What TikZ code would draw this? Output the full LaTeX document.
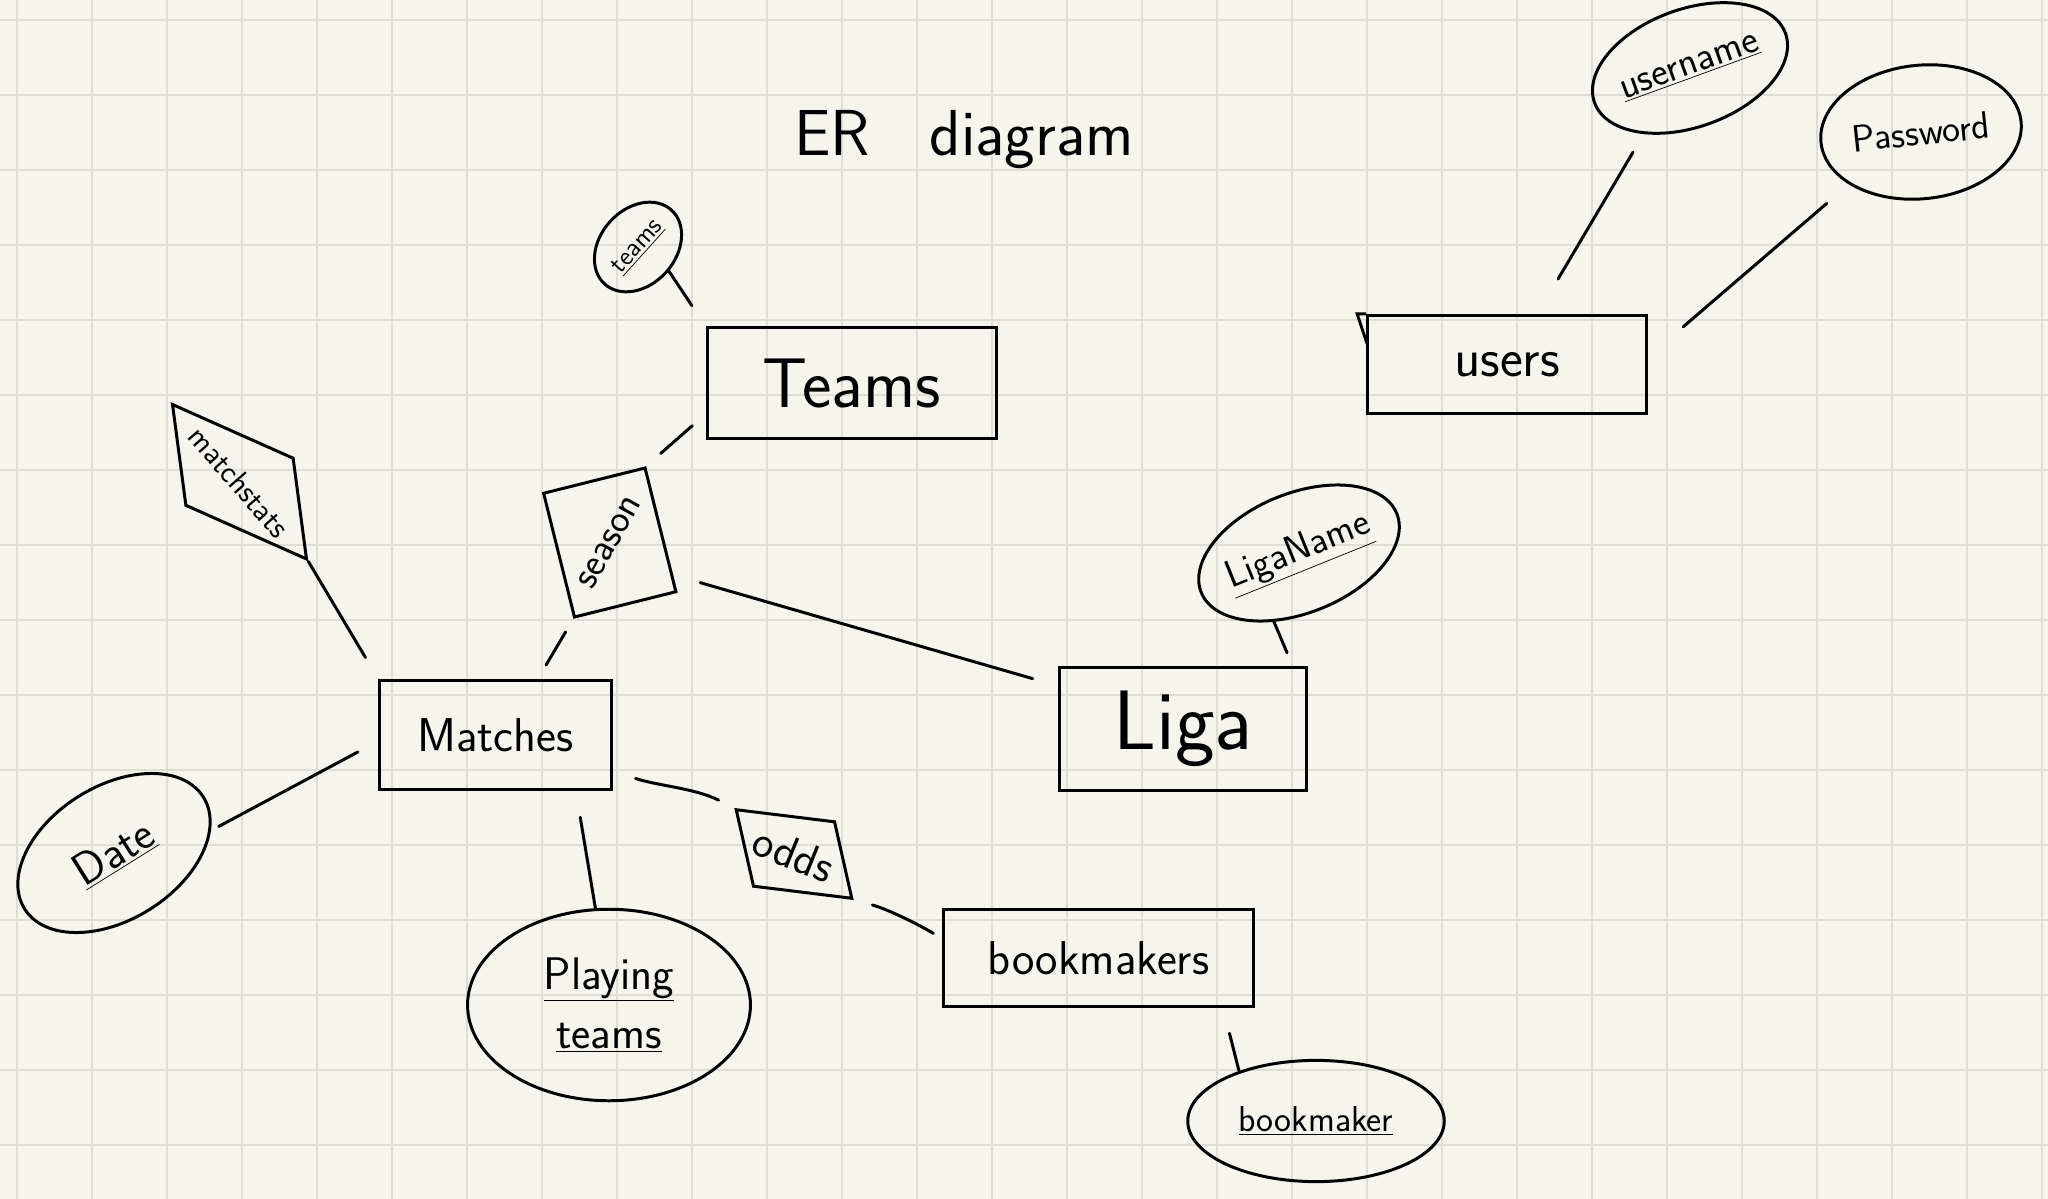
\documentclass[tikz,border=0pt]{standalone}
\usepackage{graphicx}
\usepackage{tikz}
\usetikzlibrary{shapes.geometric}

\definecolor{paperbg}{RGB}{246,245,236}
\definecolor{gridgrey}{RGB}{223,222,212}
\newcommand\inksize[1]{\fontsize{#1pt}{#1pt}\selectfont}
\newcommand\zerobox[1]{\makebox[1pt]{\raisebox{\dimexpr(\depth-\height)/2\relax}[0.5pt][0.5pt]{#1}}}

\begin{document}
\begin{tikzpicture}[x=0.02cm,y=-0.02cm,line width=1.7pt,
	entity/.style={draw,rectangle,inner sep=0pt},
	attrib/.style={draw,ellipse,inner sep=0pt},
	relbox/.style={draw,inner sep=0pt},
	link/.style={line cap=round}]
	\useasboundingbox (0,0) rectangle (2048,1199);
	\fill[paperbg] (0,0) rectangle (2048,1199);
	\foreach \gx in {0,...,27}
		\draw[gridgrey,line width=1.4pt] ({17+75*\gx},0) -- ({17+75*\gx},1199);
	\foreach \gy in {0,...,15}
		\draw[gridgrey,line width=1.4pt] (0,{20+75*\gy}) -- (2048,{20+75*\gy});

	\node[font=\sffamily\inksize{37}] (title) at (964,140) {ER\hspace{34pt}diagram};

	% entities
	\node[entity,minimum width=165pt,minimum height=63pt,font=\sffamily\inksize{40}] (teams) at (852,383) {Teams\hspace{32pt}};
	\node[entity,minimum width=158.7pt,minimum height=56pt,font=\sffamily\inksize{31}] (users) at (1507,364.5) {users\hspace{50pt}};
	\node[entity,minimum width=140.6pt,minimum height=70.3pt,font=\sffamily\inksize{48}] (liga) at (1183,729) {Liga};
	\node[entity,minimum width=132pt,minimum height=62.4pt,font=\sffamily\inksize{27}] (matches) at (495.5,735) {Matches\hspace{16pt}};
	\node[entity,minimum width=176pt,minimum height=55.6pt,font=\sffamily\inksize{27}] (bookmakers) at (1098.5,958) {bookmakers\hspace{11pt}};

	% relationships
	\node[relbox,trapezium,trapezium left angle=124,trapezium right angle=56,trapezium stretches=true,
		minimum width=105.4pt,minimum height=49.3pt,rotate=-24,font=\sffamily\inksize{18}] (stats) at (239.5,481.75) {\zerobox{\rotatebox{-25}{matchstats}}};
	\node[relbox,rectangle,minimum width=59.5pt,minimum height=72.6pt,rotate=14,font=\sffamily\inksize{22.5}] (season) at (609.75,542.5) {\zerobox{\rotatebox{47}{season}}};
	\node[relbox,trapezium,trapezium left angle=110,trapezium right angle=70,trapezium stretches=true,
		minimum width=71.4pt,minimum height=42pt,rotate=-7,font=\sffamily\inksize{26}] (odds) at (794,854) {\zerobox{\rotatebox{-15}{odds}}};

	% attributes
	\node[attrib,minimum width=56.7pt,minimum height=43pt,rotate=48,font=\sffamily\inksize{15}] (teamsid) at (638,247) {\zerobox{\underline{teams}}};
	\node[attrib,minimum width=120pt,minimum height=76pt,rotate=32,font=\sffamily\inksize{26}] (date) at (114,853) {\zerobox{\underline{Date}}};
	\node[attrib,minimum width=161pt,minimum height=109pt,align=center,font=\sffamily\fontsize{26pt}{34pt}\selectfont] (playing) at (609,1005) {\underline{Playing}\\\underline{teams}};
	\node[attrib,minimum width=120pt,minimum height=68pt,rotate=22,font=\sffamily\inksize{22}] (liganame) at (1299,553) {\zerobox{\underline{LigaName}}};
	\node[attrib,minimum width=115.6pt,minimum height=67pt,rotate=20,font=\sffamily\inksize{22.5}] (username) at (1690,68) {\zerobox{\underline{username}}};
	\node[attrib,minimum width=114.5pt,minimum height=76pt,rotate=6,font=\sffamily\inksize{21.7}] (password) at (1921,132) {\zerobox{Password}};
	\node[attrib,minimum width=146pt,minimum height=69pt,font=\sffamily\inksize{20.5}] (bookmaker) at (1316,1121) {\zerobox{\underline{bookmaker}}};

	\path[link]
	(teamsid.-86) edge [shorten >=14pt] (teams.north west)
	(teams.192) edge [shorten <=10pt,shorten >=11pt] (season.north east)
	(season.south west) edge [shorten <=8.6pt,shorten >=9pt] (matches.53)
	(season.-41) edge [shorten <=16pt,shorten >=15pt] (liga.161)
	(stats.bottom right corner) edge [shorten >=14pt] (matches.north west)
	(date.-19) edge [shorten <=5pt,shorten >=13pt] (matches.183)
	(matches.-35) edge [shorten <=15pt] (playing.98)
	(bookmakers.-22) edge [shorten <=14.6pt] (bookmaker.147)
	(liganame.-132) edge [shorten >=8pt] (liga.30)
	(username.-145) edge [shorten <=12pt,shorten >=23pt] (users.59)
	(password.-150) edge [shorten <=16.6pt,shorten >=26.5pt] (users.3);
	\draw[link,shorten <=13.6pt,shorten >=10pt] (matches.-17) .. controls +(45,15) and +(-40,-20) .. (odds.top left corner);
	\draw[link,shorten <=11pt,shorten >=6pt] (odds.bottom right corner) .. controls +(30,8) and +(-30,-18) .. (bookmakers.173);
	\draw (users.north west) -- ++(-9,0) -- ++(10,30);
\end{tikzpicture}
\end{document}
